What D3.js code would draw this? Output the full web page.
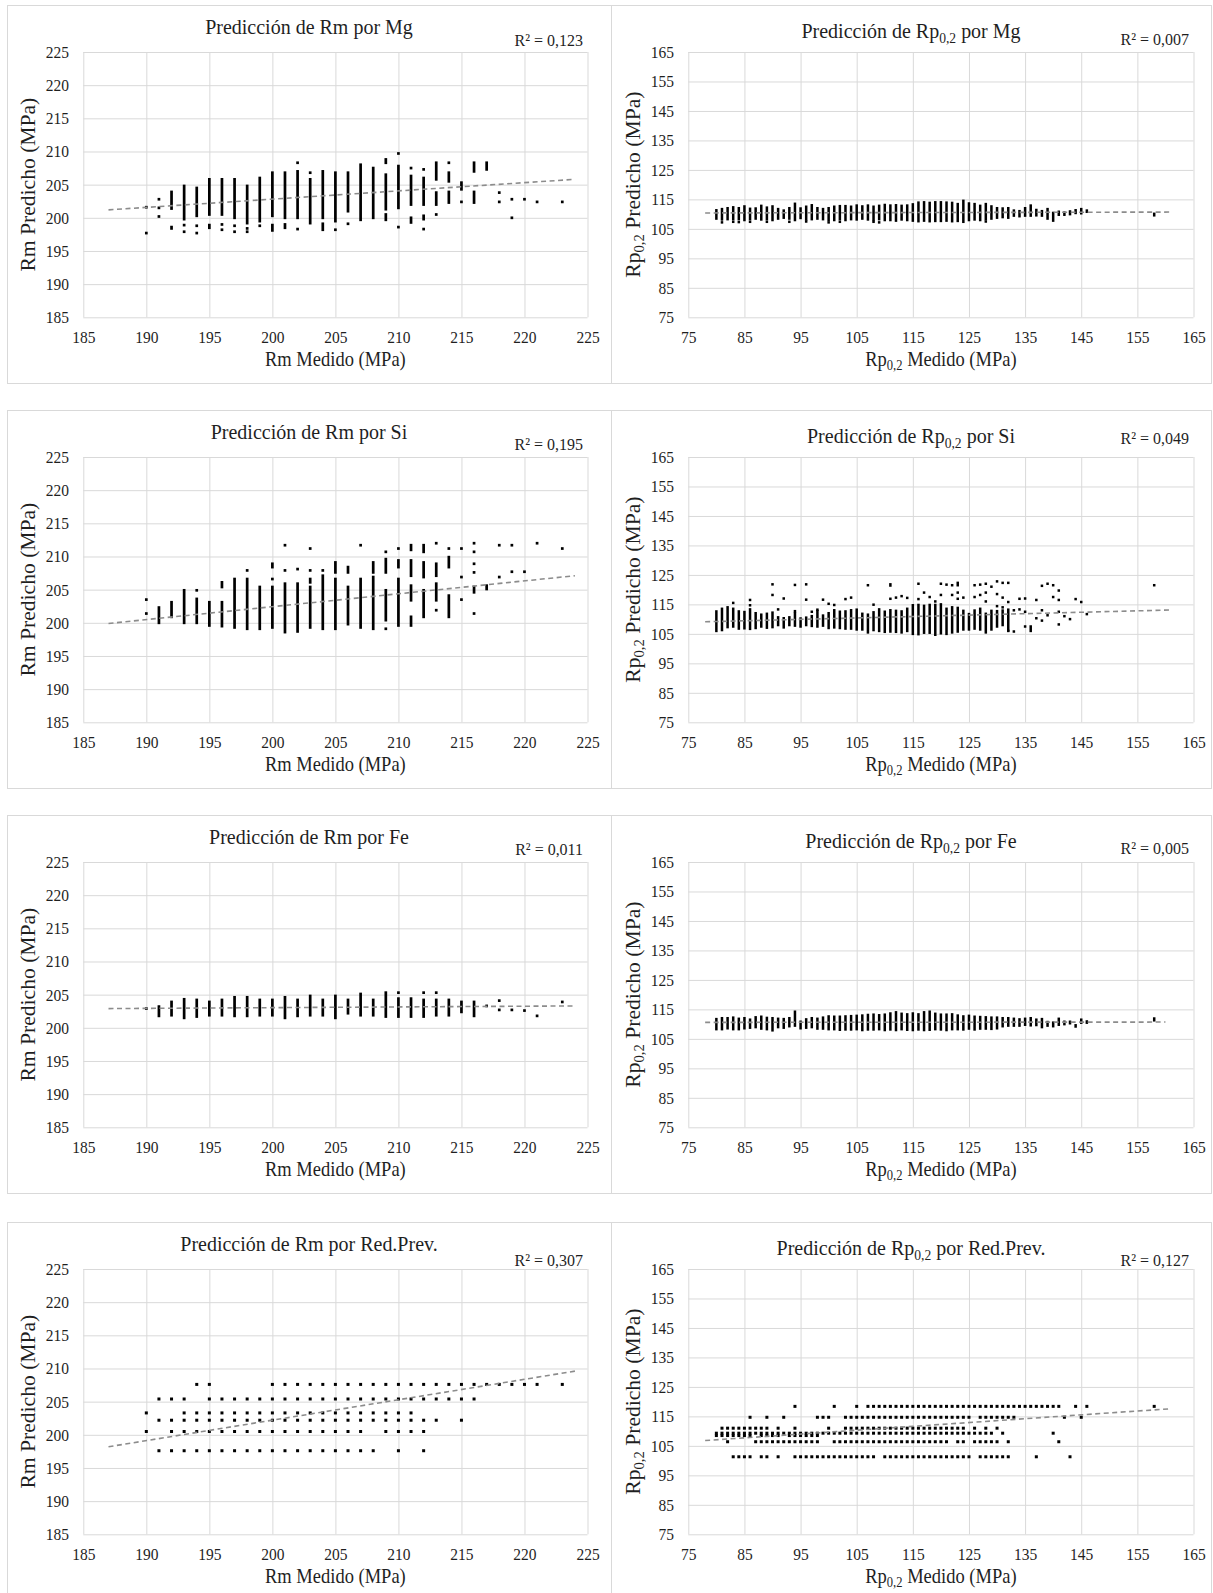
<!DOCTYPE html>
<html>
<head>
<meta charset="utf-8">
<script src="https://cdn.jsdelivr.net/npm/d3@7"></script>
<style>
body { margin: 0; background: #fff; }
svg { display: block; }
</style>
</head>
<body>
<div id="chart"></div>
<script>
// ---- axis ticks ----
var rmTicks = [185, 190, 195, 200, 205, 210, 215, 220, 225];
var rpTicks = [75, 85, 95, 105, 115, 125, 135, 145, 155, 165];

// ---- Rm panels: [Rm medido, predicho bajo, predicho alto] (bajo == alto -> one point) ----
var rmMgCols = [
	[190,201.6,201.6],[190,197.7,197.7],
	[191,202.8,202.8],[191,201.5,201.5],[191,200.2,200.2],
	[192,201.4,203.9],[192,198.4,198.6],
	[193,199.8,204.8],[193,198.9,198.9],[193,197.9,197.9],
	[194,200.3,204.5],[194,198.8,198.8],[194,197.7,197.7],
	[195,200.5,205.8],[195,198.5,198.9],
	[196,200.5,205.8],[196,199.0,199.0],[196,198.2,198.2],
	[197,200.0,205.8],[197,198.8,198.8],[197,197.9,197.9],
	[198,199.2,204.8],[198,198.4,198.4],[198,197.9,197.9],
	[199,199.5,206.0],[199,198.8,198.8],
	[200,200.3,206.8],[200,198.1,198.9],
	[201,200.0,206.8],[201,198.5,199.0],
	[202,200.0,207.0],[202,208.3,208.3],[202,198.3,198.3],
	[203,199.2,205.8],[203,206.8,206.8],
	[204,200.0,207.0],[204,198.2,199.1],
	[205,199.5,206.8],[205,198.2,198.2],
	[206,201.0,206.8],[206,199.1,199.1],
	[207,199.7,208.0],
	[208,200.0,207.5],
	[209,208.3,208.8],[209,201.3,206.5],[209,199.7,200.5],
	[210,209.7,209.7],[210,201.5,207.8],[210,198.6,198.6],
	[211,207.5,207.5],[211,202.0,206.3],[211,199.3,200.0],
	[212,207.3,207.3],[212,202.0,206.0],[212,199.8,200.3],[212,198.3,198.3],
	[213,205.8,208.3],[213,202.0,203.8],[213,200.5,200.5],
	[214,208.3,208.3],[214,205.5,206.8],[214,202.3,203.9],
	[215,204.3,205.3],[215,202.4,202.4],
	[216,207.0,208.3],[216,202.3,203.9],
	[217,207.3,208.3],
	[218,203.8,203.8],[218,202.4,202.4],
	[219,202.8,202.8],[219,200.0,200.0],
	[220,202.8,202.8],[221,202.4,202.4],[223,202.4,202.4]
];
var rmMgTrend = [[187, 201.2], [224, 205.8]];

var rmSiCols = [
	[190,203.5,203.5],[190,201.4,201.4],
	[191,200.0,202.3],
	[192,200.9,203.1],
	[193,200.0,204.9],
	[194,204.9,204.9],[194,200.0,203.6],
	[195,199.6,203.1],
	[196,205.4,206.1],[196,199.5,203.1],
	[197,199.3,206.6],
	[198,207.9,207.9],[198,199.1,206.6],
	[199,199.1,205.4],
	[200,208.4,208.9],[200,206.6,206.6],[200,199.3,205.4],
	[201,211.7,211.7],[201,207.9,207.9],[201,198.6,205.9],
	[202,208.1,208.1],[202,198.7,205.9],
	[203,211.2,211.2],[203,207.9,207.9],[203,206.1,206.6],[203,199.3,205.4],
	[204,207.9,207.9],[204,199.1,207.1],
	[205,207.6,209.1],[205,199.1,206.6],
	[206,207.6,208.4],[206,199.8,205.4],
	[207,211.7,211.7],[207,199.3,206.6],
	[208,207.6,209.1],[208,199.1,206.9],
	[209,210.7,210.7],[209,207.6,209.6],[209,200.4,204.9],[209,199.1,199.1],
	[210,211.2,211.2],[210,208.4,209.4],[210,199.6,206.6],
	[211,211.0,211.7],[211,207.1,209.4],[211,203.4,205.6],[211,199.6,200.9],
	[212,210.7,211.7],[212,206.9,209.1],[212,200.9,204.9],
	[213,212.0,212.0],[213,207.1,208.9],[213,203.4,205.9],[213,201.9,201.9],
	[214,211.2,211.2],[214,208.4,209.9],[214,200.9,204.1],
	[215,211.2,211.2],[215,206.9,206.9],[215,203.5,203.5],
	[216,212.0,212.0],[216,210.7,210.7],[216,208.9,208.9],[216,207.6,207.6],[216,204.6,205.4],[216,201.4,201.4],
	[217,205.1,205.6],
	[218,211.7,211.7],[218,206.9,206.9],
	[219,211.7,211.7],[219,207.7,207.7],
	[220,207.7,207.7],[221,212.0,212.0],[223,211.2,211.2]
];
var rmSiTrend = [[187, 199.9], [224, 207.1]];

var rmFeCols = [
	[190,202.9,202.9],[191,201.8,203.2],[192,201.9,203.9],[193,201.5,204.3],[194,201.7,204.2],
	[195,201.9,203.9],[196,201.9,204.2],[197,201.8,204.6],[198,201.8,204.6],[199,201.9,204.2],
	[200,201.9,204.2],[201,201.5,204.6],[202,201.8,204.2],[203,201.9,204.8],[204,201.9,204.2],
	[205,201.5,204.8],[206,202.2,204.2],[207,201.9,205.1],[208,201.9,204.2],[209,201.7,205.3],
	[210,205.3,205.3],[210,201.7,204.4],[211,201.7,204.4],[212,205.3,205.3],[212,201.7,204.2],
	[213,205.3,205.3],[213,201.9,204.2],[214,201.9,204.2],[215,202.4,203.9],[216,201.8,203.9],
	[217,203.3,203.3],[218,204.1,204.1],[218,202.7,202.7],[219,202.7,202.7],[220,202.6,202.6],
	[221,201.8,201.8],[223,203.9,203.9]
];
var rmFeTrend = [[187, 202.9], [224, 203.3]];

// Red.Prev. gives discrete predicted levels: [nivel, Rm medido...]
var rmRedLevels = [
	[207.6, [194,195,200,201,202,203,204,205,206,207,208,209,210,211,212,213,214,215,216,217,218,219,220,221,223]],
	[205.4, [191,192,193,195,196,197,198,199,200,201,202,203,204,205,206,207,208,209,210,211,212,213,214,215,216]],
	[203.3, [190,193,194,195,196,197,198,199,200,201,202,203,204,205,206,207,208,209,210,211]],
	[202.2, [191,192,193,194,195,196,197,198,199,200,201,202,203,204,205,206,207,208,209,210,211,212,213,215]],
	[200.5, [190,192,193,194,195,196,197,198,199,200,201,202,203,204,205,206,207,209,210,211,212]],
	[197.6, [191,192,193,194,195,196,197,198,199,200,201,202,203,204,205,206,207,208,210,212]]
];
var rmRedTrend = [[187, 198.2], [224, 209.6]];

// ---- Rp0,2 panels ----
var rpMgCols = [
	[80,108.5,111.3],[81,108.2,111.7],[81,107.2,107.2],[82,108.3,112.0],[83,108.3,112.3],[83,107.4,107.4],
	[84,108.3,112.0],[84,107.3,107.3],[85,108.0,112.6],[86,108.3,111.8],[86,107.4,107.4],[87,108.5,111.9],
	[88,108.2,112.8],[89,108.3,112.2],[89,107.4,107.4],[90,108.0,112.6],[91,108.5,111.7],[92,108.8,111.2],
	[93,108.5,112.0],[93,107.4,107.4],[94,108.0,113.5],[95,108.7,111.9],[96,108.2,112.5],[96,107.5,107.5],
	[97,108.3,113.0],[98,108.5,112.0],[99,108.3,111.7],[100,108.0,112.0],[100,107.2,107.2],[101,108.0,112.5],
	[102,108.3,112.7],[102,107.4,107.4],[103,108.0,112.7],[104,108.3,112.5],[105,108.2,112.9],[106,108.5,112.6],
	[107,108.2,112.9],[108,108.0,112.5],[108,107.4,107.4],[109,108.3,112.8],[109,107.2,107.2],[110,108.0,113.1],
	[111,108.0,112.9],[112,107.8,113.0],[113,108.2,112.8],[114,108.0,112.9],[115,107.8,113.3],[116,107.6,113.9],
	[117,107.8,114.0],[118,107.6,113.8],[119,107.7,114.0],[120,107.7,114.0],[121,107.8,113.9],[122,107.6,113.8],
	[123,107.7,113.4],[124,107.4,114.5],[125,108.0,113.6],[126,108.2,113.4],[127,108.0,112.8],[128,108.3,113.4],
	[128,107.5,107.5],[129,108.5,112.6],[130,108.8,112.0],[131,109.0,111.9],[132,108.8,112.0],[133,109.5,111.2],
	[134,109.3,111.0],[135,109.5,112.0],[136,109.5,112.9],[137,109.6,111.4],[138,109.5,111.0],[139,108.5,111.7],
	[140,107.8,110.4],[141,109.8,110.8],[142,109.8,110.5],[143,110.0,110.9],[144,110.4,111.3],[145,110.3,111.7],
	[146,110.8,111.2],[158,109.6,110.1]
];
var rpMgTrend = [[78, 110.4], [161, 110.7]];

var rpSiCols = [
	[80,106.0,112.6],[81,106.3,113.5],[82,107.3,114.0],[83,107.5,113.5],[84,106.8,112.6],[85,106.9,112.4],
	[86,106.7,113.3],[87,107.0,112.0],[88,107.5,111.5],[89,107.1,111.8],[90,107.3,112.2],[91,108.0,110.6],
	[92,107.2,110.3],[93,108.0,110.6],[94,107.8,112.0],[95,107.5,110.2],[96,108.0,110.5],[97,107.7,111.0],
	[98,107.5,112.7],[99,107.8,111.2],[100,107.0,112.0],[101,107.2,113.0],[102,107.0,112.5],[103,106.8,112.6],
	[104,106.8,113.0],[105,106.5,113.2],[106,106.5,111.8],[107,105.5,111.5],[108,106.3,112.3],[109,106.0,113.3],
	[110,105.7,112.5],[111,105.8,113.0],[112,105.7,112.8],[113,105.5,112.6],[114,106.0,113.5],[115,105.0,114.7],
	[116,104.9,114.8],[117,105.4,114.5],[118,105.4,114.8],[119,104.7,114.8],[120,105.2,115.0],[121,105.0,113.5],
	[122,105.5,114.0],[123,105.8,113.8],[124,106.5,112.8],[125,106.5,111.7],[126,106.8,112.9],[127,106.5,113.5],
	[128,105.5,111.8],[129,106.5,112.8],[130,107.5,112.7],[131,108.0,112.9],[132,106.2,113.2],
	[83,115.5,115.5],[86,116.5,116.5],[86,114.7,114.7],[90,121.8,121.8],[90,118.2,118.2],[91,113.3,113.3],
	[92,117.0,117.0],[94,121.6,121.6],[94,112.7,112.7],[96,121.8,121.8],[96,116.6,116.6],[97,112.5,112.5],
	[98,113.2,113.2],[99,116.6,116.6],[100,115.2,115.2],[101,114.8,114.8],[103,116.8,116.8],[104,117.3,117.3],
	[107,121.5,121.5],[108,114.9,114.9],[111,121.4,121.8],[111,116.9,116.9],[112,117.3,117.3],[113,117.8,117.8],
	[114,117.2,117.2],[116,122.0,122.0],[116,116.8,116.8],[117,119.0,119.0],[118,117.5,117.5],[119,116.0,116.0],
	[120,122.0,122.0],[120,118.2,118.2],[121,121.7,121.7],[122,121.5,121.5],[122,118.2,118.2],[123,121.5,122.3],
	[123,119.0,119.0],[123,116.9,116.9],[124,117.3,117.3],[126,121.5,121.5],[126,117.5,117.5],[127,121.7,121.7],
	[127,118.2,118.2],[128,122.0,122.0],[128,119.0,119.0],[128,116.0,116.0],[129,121.0,121.0],[130,122.8,122.8],
	[130,118.5,118.5],[130,114.4,114.4],[131,122.3,122.3],[131,117.3,117.3],[131,114.0,114.0],[132,122.3,122.3],
	[132,115.8,115.8],[132,106.0,106.0],[133,113.0,113.0],[133,105.8,105.8],[134,116.9,116.9],[134,113.3,113.3],
	[135,117.0,117.0],[135,112.5,112.5],[135,107.5,107.5],[136,106.0,107.5],[137,116.5,116.5],[137,110.3,110.3],
	[138,121.3,121.3],[138,113.0,113.0],[138,109.5,109.5],[139,122.0,122.0],[139,111.3,111.3],[140,121.5,121.5],
	[140,117.5,117.5],[141,119.7,119.7],[141,116.5,116.5],[141,112.5,112.5],[141,108.2,108.2],[142,111.0,111.0],
	[143,110.0,110.0],[144,116.8,116.8],[145,115.8,115.8],[146,111.7,111.7],[158,121.5,121.5]
];
var rpSiTrend = [[78, 109.1], [161, 113.1]];

var rpFeCols = [
	[80,108.3,111.7],[81,108.3,112.0],[82,108.6,112.0],[83,108.3,112.2],[84,108.3,111.8],[85,108.6,112.0],
	[86,108.8,111.5],[87,109.0,112.3],[88,108.5,112.5],[89,108.3,112.1],[90,107.9,112.0],[91,109.0,111.8],
	[92,108.8,111.7],[93,109.3,112.0],[94,109.5,114.2],[95,108.6,110.8],[96,108.8,111.6],[97,109.0,112.0],
	[98,108.5,111.8],[99,108.5,112.2],[100,108.3,112.6],[101,108.3,112.5],[102,108.1,112.5],[103,108.2,112.6],
	[104,108.2,112.7],[105,108.3,112.8],[106,108.0,112.9],[107,108.2,113.1],[108,108.2,113.2],[109,108.3,113.0],
	[110,108.0,113.2],[111,108.2,113.6],[112,108.0,114.0],[113,108.3,113.5],[114,108.1,113.3],[115,108.0,113.6],
	[116,108.2,113.3],[117,108.0,114.0],[118,108.1,114.2],[119,108.3,113.5],[120,108.2,113.2],[121,108.0,113.2],
	[122,108.3,113.3],[123,108.3,112.9],[124,108.2,112.6],[125,108.5,112.8],[126,108.2,112.5],[127,108.5,112.4],
	[128,108.5,112.3],[129,108.4,112.2],[130,108.6,112.2],[131,109.3,112.0],[132,109.5,112.0],[133,109.5,111.8],
	[134,109.5,111.6],[135,109.8,111.8],[136,109.6,112.0],[137,109.7,111.5],[138,109.0,111.7],[139,109.5,110.7],
	[140,109.3,110.5],[141,109.8,111.8],[142,110.0,110.8],[143,110.3,110.8],[144,109.2,109.6],[145,110.5,111.5],
	[146,110.5,110.9],[158,111.3,111.9]
];
var rpFeTrend = [[78, 110.6], [160, 110.7]];

var rpRedLevels = [
	[118.4, [94,101,105,107,108,109,110,111,112,113,114,115,116,117,118,119,120,121,122,123,124,125,126,127,128,129,130,131,132,133,134,135,136,137,138,139,140,141,144,146,158]],
	[114.7, [86,89,92,98,99,100,103,104,105,106,107,108,109,110,111,112,113,114,115,116,117,118,119,120,121,122,123,124,125,127,128,129,130,131,132,133,142,145]],
	[111.0, [81,82,83,84,85,86,87,88,89,91,94,100,103,104,105,106,107,108,109,110,111,112,113,114,115,116,117,118,119,120,121,122,123,124,126,128,130]],
	[109.3, [80,81,82,83,84,85,86,87,88,89,90,91,92,93,94,95,96,97,98,99,100,101,102,103,104,105,106,107,108,109,110,111,112,113,114,115,116,117,118,119,120,121,122,123,124,125,126,127,128,129,131,140]],
	[108.5, [80,81,82,83,84,85,86,88,89,90,91,93,94,95,96,97,98]],
	[106.4, [82,87,88,89,90,91,92,93,94,95,96,97,98,101,102,103,104,105,106,107,108,109,110,111,112,113,114,115,116,117,118,119,120,121,123,124,126,127,128,129,130,132,141]],
	[101.3, [83,84,85,86,88,89,91,94,95,96,97,98,99,100,101,102,103,104,105,106,107,108,110,111,112,113,114,115,116,117,118,119,120,121,122,123,124,125,127,128,129,130,131,132,137,143]]
];
var rpRedTrend = [[78, 106.8], [161, 117.6]];

// ---- panel texts ----
var rmTitles = ['Predicción de Rm por Mg', 'Predicción de Rm por Si', 'Predicción de Rm por Fe', 'Predicción de Rm por Red.Prev.'];
var rpElements = [' por Mg', ' por Si', ' por Fe', ' por Red.Prev.'];
var rmR2 = ['0,123', '0,195', '0,011', '0,307'];
var rpR2 = ['0,007', '0,049', '0,005', '0,127'];

function levelsToCols(levels){
	var out = [];
	levels.forEach(function(l){
		l[1].forEach(function(v){ out.push([v, l[0], l[0]]); });
	});
	return out;
}

var rmData = [rmMgCols, rmSiCols, rmFeCols, levelsToCols(rmRedLevels)];
var rmTrends = [rmMgTrend, rmSiTrend, rmFeTrend, rmRedTrend];
var rpData = [rpMgCols, rpSiCols, rpFeCols, levelsToCols(rpRedLevels)];
var rpTrends = [rpMgTrend, rpSiTrend, rpFeTrend, rpRedTrend];

// ---- layout ----
var width = 1213, height = 1593;
var font = '"Liberation Serif", "Times New Roman", serif';
var textColor = '#1f1f1f';
var gridColor = '#d9d9d9';
var stretch = 1.1; // the original picture is a little taller than wide
var rowTops = [5, 410, 815, 1222];
var panelH = 378, plotOffset = 47, plotH = 265.3;
var cols = [
	{left: 7, right: 611, plotL: 83.3, plotR: 587.5, yTitleX: 35, titleY: 29, r2Y: [41, 40, 40, 44], r2X: 583},
	{left: 611, right: 1211, plotL: 688.3, plotR: 1193.5, yTitleX: 640, titleY: 33, r2Y: [40, 34, 39, 44], r2X: 1189}
];

var svg = d3.select('#chart')
	.append('svg')
		.attr('width', width)
		.attr('height', height)
		.style('font-family', font);

// text with optional subscript pieces: [[str], [str, 'sub'], ...]
function richText(sel, parts, size){
	var wasSub = false;
	parts.forEach(function(pt){
		var t = sel.append('tspan').text(pt[0]);
		if (pt[1] == 'sub'){
			t.attr('font-size', size * 0.68).attr('dy', size * 0.22);
			wasSub = true;
		} else if (wasSub){
			t.attr('dy', -size * 0.22);
			wasSub = false;
		}
	});
}

function drawPanel(c, row, cfg){
	var col = cols[c];
	var top = rowTops[row];
	var plotTop = top + plotOffset, plotBottom = plotTop + plotH;
	var g = svg.append('g');

	g.append('rect')
		.attr('x', col.left + 0.5)
		.attr('y', top + 0.5)
		.attr('width', col.right - col.left)
		.attr('height', panelH)
		.attr('fill', 'none')
		.attr('stroke', gridColor);

	var x = d3.scaleLinear().domain(cfg.domain).range([col.plotL, col.plotR]);
	var y = d3.scaleLinear().domain(cfg.domain2).range([plotBottom, plotTop]);

	var xAxis = g.append('g')
		.attr('transform', `translate(0,${plotBottom})`)
		.call(d3.axisBottom(x).tickValues(cfg.xTicks).tickSize(-plotH).tickPadding(12.5).tickFormat(d3.format('d')));
	var yAxis = g.append('g')
		.attr('transform', `translate(${col.plotL},0)`)
		.call(d3.axisLeft(y).tickValues(cfg.yTicks).tickSize(-(col.plotR - col.plotL)).tickPadding(14.3).tickFormat(d3.format('d')));

	[xAxis, yAxis].forEach(function(a){
		a.attr('font-family', font).attr('font-size', 15.5);
		a.select('.domain').remove();
		a.selectAll('line').attr('stroke', gridColor).attr('stroke-width', 1);
		a.selectAll('text').attr('fill', textColor).attr('transform', `scale(1,${stretch})`);
	});

	// points (stacked columns of dots)
	var w = cfg.marker;
	g.append('g').selectAll('rect')
		.data(cfg.cols)
		.enter().append('rect')
			.attr('x', d => x(d[0]) - w / 2)
			.attr('y', d => y(d[2]) - w / 2)
			.attr('width', w)
			.attr('height', d => y(d[1]) - y(d[2]) + w)
			.attr('fill', '#000');

	var trendLine = d3.line()
		.x(d => x(d[0]))
		.y(d => y(d[1]));

	g.append('path')
		.datum(cfg.trend)
		.attr('d', trendLine)
		.attr('fill', 'none')
		.attr('stroke', '#8c8c8c')
		.attr('stroke-width', 1.6)
		.attr('stroke-dasharray', '5,3.5');

	// title
	var title = g.append('text')
		.attr('transform', `translate(${(col.left + col.right) / 2},${top + col.titleY}) scale(1,${stretch})`)
		.attr('text-anchor', 'middle')
		.attr('font-size', 20)
		.attr('fill', textColor);
	richText(title, cfg.title, 20);

	g.append('text')
		.attr('transform', `translate(${col.r2X},${top + col.r2Y[row]}) scale(1,${stretch})`)
		.attr('text-anchor', 'end')
		.attr('font-size', 16)
		.attr('fill', textColor)
		.text('R² = ' + cfg.r2);

	var xt = g.append('text')
		.attr('transform', `translate(${(col.plotL + col.plotR) / 2},${top + 361}) scale(1,${stretch})`)
		.attr('text-anchor', 'middle')
		.attr('font-size', 18.5)
		.attr('fill', textColor);
	richText(xt, cfg.xTitle, 18.5);

	var yt = g.append('text')
		.attr('transform', `translate(${col.yTitleX},${(plotTop + plotBottom) / 2}) rotate(-90) scale(1.08,1)`)
		.attr('text-anchor', 'middle')
		.attr('font-size', 20)
		.attr('fill', textColor);
	richText(yt, cfg.yTitle, 20);
}

for (var i = 0; i < 4; i++){
	drawPanel(0, i, {
		domain: [185, 225], domain2: [185, 225],
		xTicks: rmTicks, yTicks: rmTicks,
		cols: rmData[i], trend: rmTrends[i], marker: i == 3 ? 3 : 2.7,
		title: [[rmTitles[i]]], r2: rmR2[i],
		xTitle: [['Rm Medido (MPa)']],
		yTitle: [['Rm Predicho (MPa)']]
	});
	drawPanel(1, i, {
		domain: [75, 165], domain2: [75, 165],
		xTicks: rpTicks, yTicks: rpTicks,
		cols: rpData[i], trend: rpTrends[i], marker: i == 3 ? 3 : 2.5,
		title: [['Predicción de Rp'], ['0,2', 'sub'], [rpElements[i]]], r2: rpR2[i],
		xTitle: [['Rp'], ['0,2', 'sub'], [' Medido (MPa)']],
		yTitle: [['Rp'], ['0,2', 'sub'], [' Predicho (MPa)']]
	});
}
</script>
</body>
</html>
